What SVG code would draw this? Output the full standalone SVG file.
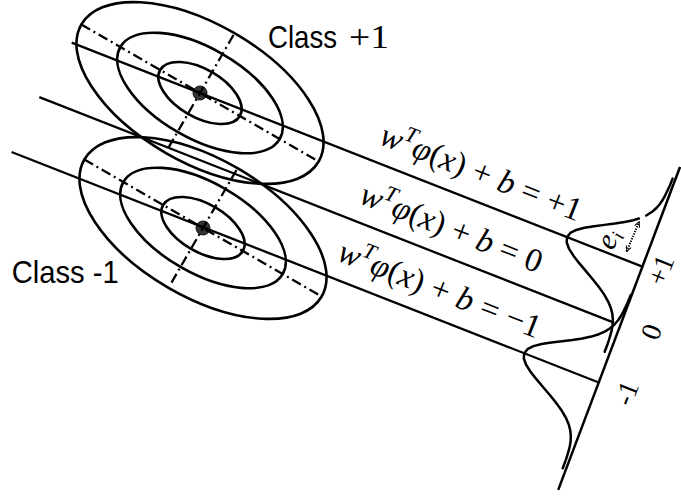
<svg xmlns="http://www.w3.org/2000/svg" width="681" height="497" viewBox="0 0 681 497">
<style>
.el{fill:none;stroke:#000;stroke-width:2.6}
.dd{fill:none;stroke:#000;stroke-width:2.3;stroke-dasharray:10 4 2 4}
.ln{fill:none;stroke:#000;stroke-width:2.3}
.g{fill:none;stroke:#000;stroke-width:2.5;stroke-linejoin:round;stroke-linecap:round}
.dot{fill:#333;stroke:#111;stroke-width:1}
.math{font-family:"Liberation Serif","Times New Roman",serif;font-size:33px;fill:#000}
.i{font-style:italic}
.sans{font-family:"Liberation Sans",Arial,sans-serif;fill:#000}
.ax{font-family:"Liberation Serif","Times New Roman",serif;font-size:28px;fill:#000}
</style>
<defs>
<marker id="ah" viewBox="0 0 8 8" refX="7" refY="4" markerWidth="7" markerHeight="7" markerUnits="userSpaceOnUse" orient="auto-start-reverse">
<path d="M1,1 L7,4 L1,7" fill="none" stroke="#000" stroke-width="1.2"/>
</marker>
<g id="cluster">
<circle class="dot" cx="0" cy="0" r="7"/>
<g transform="rotate(30)">
<ellipse class="el" cx="0" cy="0" rx="46" ry="24"/>
<ellipse class="el" cx="0" cy="0" rx="92" ry="45"/>
<ellipse class="el" cx="0" cy="0" rx="137" ry="69"/>
<line class="dd" x1="-137" y1="0" x2="137" y2="0"/>
<line class="dd" x1="0" y1="-67" x2="0" y2="67"/>
</g>
</g>
</defs>

<g id="class-plus-1" transform="translate(200,93)"><use href="#cluster"/></g>
<g id="class-minus-1" transform="translate(203,228)"><use href="#cluster"/></g>

<g id="connectors" transform="rotate(21.43)">
<line class="ln" x1="82.3" y1="13.5" x2="695.4" y2="13.5"/>
<line class="ln" x1="72.1" y1="76" x2="689.3" y2="76"/>
<line class="ln" x1="66.3" y1="137.3" x2="697.1" y2="137.3"/>
<line class="ln" x1="694" y1="-93" x2="698.6" y2="252" style="stroke-width:2.5"/>
<path class="g" d="M691.4,-79.5 L691.3,-71.5 L691.0,-66.5 L690.6,-61.5 L690.0,-56.5 L688.9,-51.5 L687.2,-46.5 L684.7,-41.5 L680.3,-35.5"/>
<path class="g" d="M674.5,-30 L670.1,-26.5 L662.6,-21.5 L654.0,-16.5 L644.8,-11.5 L635.6,-6.5 L627.2,-1.5 L620.4,3.5 L616.0,8.5 L614.5,13.5 L616.0,18.5 L620.4,23.5 L627.2,28.5 L635.6,33.5 L644.8,38.5 L654.0,43.5 L662.6,48.5 L670.1,53.5 L676.3,58.5 L681.1,63.5 L684.7,68.5 L687.2,73.5 L688.9,78.5 L690.0,83.5 L690.6,88.5 L691.0,93.5 L691.3,98.5 L691.4,106.5"/>
<path class="g" d="M694.9,44.3 L694.8,52.3 L694.5,57.3 L694.1,62.3 L693.5,67.3 L692.4,72.3 L690.6,77.3 L688.1,82.3 L684.5,87.3 L679.6,92.3 L673.3,97.3 L665.7,102.3 L657.0,107.3 L647.7,112.3 L638.4,117.3 L629.8,122.3 L623.0,127.3 L618.6,132.3 L617.0,137.3 L618.6,142.3 L623.0,147.3 L629.8,152.3 L638.4,157.3 L647.7,162.3 L657.0,167.3 L665.7,172.3 L673.3,177.3 L679.6,182.3 L684.5,187.3 L688.1,192.3 L690.6,197.3 L692.4,202.3 L693.5,207.3 L694.1,212.3 L694.5,217.3 L694.8,222.3 L694.9,230.3"/>
<line x1="675.2" y1="5" x2="676" y2="-27" stroke="#000" stroke-width="2" stroke-dasharray="1.3 1.3" marker-start="url(#ah)" marker-end="url(#ah)"/>
</g>

<g id="labels">
<text class="sans" x="268" y="47.7" font-size="32" textLength="69" lengthAdjust="spacingAndGlyphs">Class</text>
<text class="math" x="349" y="47.7" textLength="40" lengthAdjust="spacingAndGlyphs">+1</text>
<text class="sans" x="11.7" y="283.3" font-size="32" textLength="107" lengthAdjust="spacingAndGlyphs">Class -1</text>
<g transform="rotate(21.43)">
<text class="math" x="404" y="-4.5" textLength="214" lengthAdjust="spacing"><tspan class="i">w</tspan><tspan class="i" font-size="22" dy="-13">T</tspan><tspan class="i" dy="13">φ</tspan>(<tspan class="i">x</tspan>) + <tspan class="i">b</tspan> = +1</text>
<text class="math" x="407" y="58" textLength="193" lengthAdjust="spacing"><tspan class="i">w</tspan><tspan class="i" font-size="22" dy="-13">T</tspan><tspan class="i" dy="13">φ</tspan>(<tspan class="i">x</tspan>) + <tspan class="i">b</tspan> = 0</text>
<text class="math" x="407.5" y="119.3" textLength="215" lengthAdjust="spacing"><tspan class="i">w</tspan><tspan class="i" font-size="22" dy="-13">T</tspan><tspan class="i" dy="13">φ</tspan>(<tspan class="i">x</tspan>) + <tspan class="i">b</tspan> = −1</text>
<text class="ax" transform="translate(723,10) rotate(-90)" text-anchor="middle">+1</text>
<text class="ax" transform="translate(737,70.8) rotate(-90)" text-anchor="middle">0</text>
<text class="ax" transform="translate(736,137.2) rotate(-90)" text-anchor="middle">-1</text>
<text class="ax i" transform="translate(662.5,9.5) rotate(-90)" style="font-size:30px">e<tspan font-size="19" dy="5">i</tspan></text>
</g>
</g>
</svg>
